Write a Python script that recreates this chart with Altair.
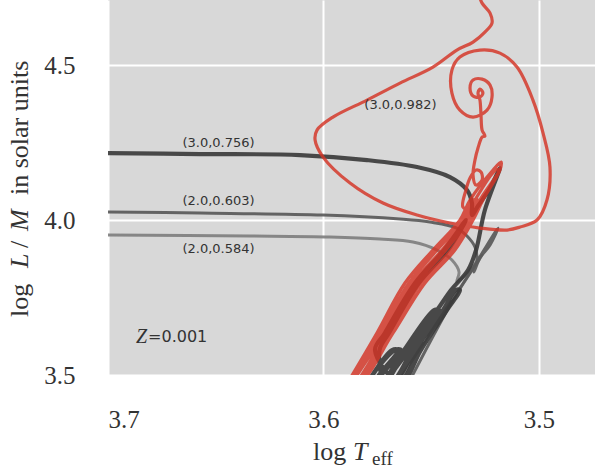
import altair as alt
import pandas as pd

# Evolutionary tracks at Z=0.001: log Teff and log L/M (solar units), in time order.
# Track (3.0, 0.756)
a_logt = [3.5794, 3.5682,
          3.5654, 3.5761,
          3.5729, 3.5626, 3.5487,
          3.5464, 3.5603, 3.5701,
          3.5668, 3.5575, 3.5445, 3.5385,
          3.5367, 3.5427, 3.5548, 3.5636,
          3.5780, 3.5668,
          3.5640, 3.5747,
          3.5682, 3.5589, 3.5531,
          3.5561, 3.5650,
          3.5761, 3.5715, 3.5575, 3.5441, 3.5339, 3.5422, 3.5557, 3.5696, 3.5740,
          3.5715, 3.5617, 3.5473, 3.5408, 3.5329, 3.5292, 3.5251, 3.5181,
          3.5227, 3.5283, 3.5311, 3.5311, 3.5334, 3.5413, 3.5566, 3.5798, 3.6109,
          3.6573, 3.7000]
a_loglm = [3.4774, 3.5806,
           3.5806, 3.4774,
           3.4774, 3.5806, 3.7097,
           3.7097, 3.5806, 3.4774,
           3.4774, 3.5806, 3.7097, 3.7742,
           3.7742, 3.7097, 3.5806, 3.4774,
           3.4774, 3.5806,
           3.5806, 3.4774,
           3.4774, 3.5806, 3.6452,
           3.5806, 3.4774,
           3.5806, 3.6355, 3.7968, 3.9032, 4.0000, 3.9032, 3.7968, 3.6355, 3.5806,
           3.4774, 3.5806, 3.7097, 3.7742, 3.8387, 3.9032, 4.0323, 4.1677,
           4.1032, 4.0452, 4.0161, 4.0548, 4.0968, 4.1387, 4.1710, 4.1935, 4.2097,
           4.2129, 4.2161]

# Track (2.0, 0.603)
b_logt = [3.5603, 3.5399, 3.5297, 3.5255, 3.5190, 3.5227, 3.5274, 3.5302, 3.5288,
          3.5297, 3.5334, 3.5381, 3.5506, 3.5645, 3.6002, 3.6573, 3.7000]
b_loglm = [3.4774, 3.7419, 3.8548, 3.9032, 3.9742, 3.9194, 3.8774, 3.8323, 3.8710,
           3.9129, 3.9484, 3.9742, 3.9935, 4.0032, 4.0161, 4.0226, 4.0258]

# Track (2.0, 0.584)
c_logt = [3.5654, 3.5459, 3.5288, 3.5264, 3.5329, 3.5381, 3.5371, 3.5404, 3.5473,
          3.5585, 3.5738, 3.5970, 3.6341, 3.7000]
c_loglm = [3.4774, 3.6839, 3.8613, 3.8871, 3.8323, 3.8000, 3.8323, 3.8710, 3.9032,
           3.9290, 3.9387, 3.9452, 3.9484, 3.9516]

# Track (3.0, 0.982)
r_logt = [3.5886, 3.5752, 3.5622, 3.5492, 3.5367, 3.5320, 3.5213, 3.5176,
          3.5181, 3.5260, 3.5306, 3.5390, 3.5529, 3.5677, 3.5826,
          3.5863, 3.5724, 3.5585, 3.5450, 3.5343, 3.5297, 3.5200,
          3.5186, 3.5274, 3.5320, 3.5408, 3.5548, 3.5691, 3.5840,
          3.5872, 3.5738, 3.5603, 3.5473, 3.5353, 3.5306,
          3.5283, 3.5329, 3.5432, 3.5566, 3.5705, 3.5849,
          3.5858, 3.5715, 3.5575, 3.5441, 3.5339, 3.5292,
          3.5320, 3.5353, 3.5339, 3.5320, 3.5292, 3.5269, 3.5264, 3.5292, 3.5306,
          3.5297, 3.5283, 3.5264, 3.5251, 3.5264, 3.5269, 3.5274, 3.5283,
          3.5274, 3.5260, 3.5274, 3.5306, 3.5320, 3.5306, 3.5264, 3.5227, 3.5218,
          3.5241, 3.5306, 3.5367, 3.5404, 3.5404, 3.5367, 3.5274, 3.5181, 3.5102,
          3.5028, 3.4981, 3.4949, 3.4963, 3.5009, 3.5088, 3.5148, 3.5274, 3.5413,
          3.5566, 3.5724, 3.5877, 3.6002, 3.6039, 3.6030, 3.5956, 3.5798, 3.5645,
          3.5492, 3.5381, 3.5306, 3.5251, 3.5218, 3.5227, 3.5264, 3.5283]
r_loglm = [3.4774, 3.6355, 3.7968, 3.9032, 4.0000, 4.0645, 4.1613, 4.1871,
           4.1613, 4.0645, 4.0000, 3.9032, 3.7968, 3.6355, 3.4774,
           3.4774, 3.6355, 3.7968, 3.9032, 4.0000, 4.0645, 4.1613,
           4.1613, 4.0645, 4.0000, 3.9032, 3.7968, 3.6355, 3.4774,
           3.4774, 3.6355, 3.7968, 3.9032, 4.0000, 4.0645,
           4.0645, 4.0000, 3.9032, 3.7968, 3.6355, 3.4774,
           3.4774, 3.6355, 3.7968, 3.9032, 4.0000, 4.0645,
           4.0323, 4.0419, 4.0968, 4.1355, 4.1613, 4.1548, 4.1290, 4.1129, 4.1452,
           4.1935, 4.2323, 4.2677, 4.2710, 4.2903, 4.3387, 4.3871, 4.4097,
           4.4226, 4.4097, 4.3968, 4.4000, 4.4258, 4.4516, 4.4548, 4.4355, 4.3968,
           4.3548, 4.3323, 4.3548, 4.4097, 4.4839, 4.5258, 4.5484, 4.5387, 4.4935,
           4.3871, 4.2806, 4.1710, 4.0645, 4.0000, 3.9774, 3.9677, 3.9742, 3.9903,
           4.0161, 4.0548, 4.1194, 4.2032, 4.2581, 4.2903, 4.3323, 4.3871, 4.4419,
           4.4935, 4.5484, 4.5742, 4.6065, 4.6355, 4.6677, 4.7000, 4.7355]

# Track labels: (initial mass, final mass) and their anchor points
label_text = ["(3.0,0.756)", "(2.0,0.603)", "(2.0,0.584)", "(3.0,0.982)"]
label_logt = [3.6487, 3.6487, 3.6487, 3.5643]
label_loglm = [4.248, 4.061, 3.906, 4.371]

x_ticks = [3.5, 3.6, 3.7]
y_ticks = [3.5, 4.0, 4.5]

SERIF = "Liberation Serif"
SANS = "DejaVu Sans"
INK = "#333333"

x_scale = alt.Scale(domain=[3.474, 3.7], reverse=True, nice=False, zero=False)
y_scale = alt.Scale(domain=[3.5, 4.71], nice=False, zero=False)

x_axis = alt.Axis(values=x_ticks, format=".1f", title=None, ticks=False, domain=False,
                  labelFont=SERIF, labelFontSize=25, labelColor=INK, labelPadding=32,
                  grid=True, gridColor="white", gridWidth=2)
y_axis = alt.Axis(values=y_ticks, format=".1f", title=None, ticks=False, domain=False,
                  labelFont=SERIF, labelFontSize=25, labelColor=INK, labelPadding=33,
                  grid=True, gridColor="white", gridWidth=2)


def track(logt, loglm, color, width=3.0, opacity=0.9):
    df = pd.DataFrame({"step": list(range(len(logt))), "logT": logt, "logLM": loglm})
    return alt.Chart(df).mark_line(
        color=color, strokeWidth=width, opacity=opacity, clip=True,
        interpolate="catmull-rom", strokeCap="round", strokeJoin="round",
    ).encode(
        x=alt.X("logT:Q", scale=x_scale, axis=x_axis),
        y=alt.Y("logLM:Q", scale=y_scale, axis=y_axis),
        order="step:Q",
    )


labels = alt.Chart(pd.DataFrame({"logT": label_logt, "logLM": label_loglm, "txt": label_text})).mark_text(
    font=SANS, fontSize=13, color=INK, align="center", baseline="middle"
).encode(
    x=alt.X("logT:Q", scale=x_scale, axis=x_axis),
    y=alt.Y("logLM:Q", scale=y_scale, axis=y_axis),
    text="txt:N",
)

metal_z = alt.Chart(pd.DataFrame({"logT": [3.687], "logLM": [3.623], "txt": ["Z"]})).mark_text(
    font=SERIF, fontStyle="italic", fontSize=20, color=INK, align="left", baseline="middle"
).encode(x=alt.X("logT:Q", scale=x_scale), y=alt.Y("logLM:Q", scale=y_scale), text="txt:N")

metal_val = alt.Chart(pd.DataFrame({"logT": [3.6814], "logLM": [3.623], "txt": ["=0.001"]})).mark_text(
    font=SANS, fontSize=16, color=INK, align="left", baseline="middle"
).encode(x=alt.X("logT:Q", scale=x_scale), y=alt.Y("logLM:Q", scale=y_scale), text="txt:N")


def piece(txt, x, y, size=26, style="normal", angle=0):
    return alt.Chart(pd.DataFrame({"txt": [txt]})).mark_text(
        font=SERIF, fontSize=size, fontStyle=style, color=INK, align="left",
        baseline="alphabetic", angle=angle,
    ).encode(x=alt.value(x), y=alt.value(y), text="txt:N")


# x axis title: log T_eff
x_title = [
    piece("log", 205, 460),
    piece("T", 245, 460, style="italic"),
    piece("eff", 264, 465, size=19),
]
# y axis title: log L/M in solar units (reads bottom to top)
y_title = [
    piece("log", -80, 317, angle=270),
    piece("L", -80, 268, style="italic", angle=270),
    piece("/", -80, 248, angle=270),
    piece("M", -80, 231, style="italic", angle=270),
    piece("in solar units", -80, 195, angle=270),
]

chart = alt.layer(
    track(c_logt, c_loglm, "#7d7d7d"),
    track(b_logt, b_loglm, "#575757"),
    track(a_logt, a_loglm, "#383838", width=4.2),
    track(r_logt, r_loglm, "#d43324", width=3.2, opacity=0.82),
    labels, metal_z, metal_val, *x_title, *y_title,
).properties(
    width=487, height=375,
    background="white",
    autosize=alt.AutoSizeParams(type="none"),
    padding={"left": 108, "top": 0, "right": 0, "bottom": 95},
).configure_view(
    fill="#d8d8d8", strokeWidth=0
)

chart.save("out.html", embed_options={"renderer": "svg", "actions": False})
